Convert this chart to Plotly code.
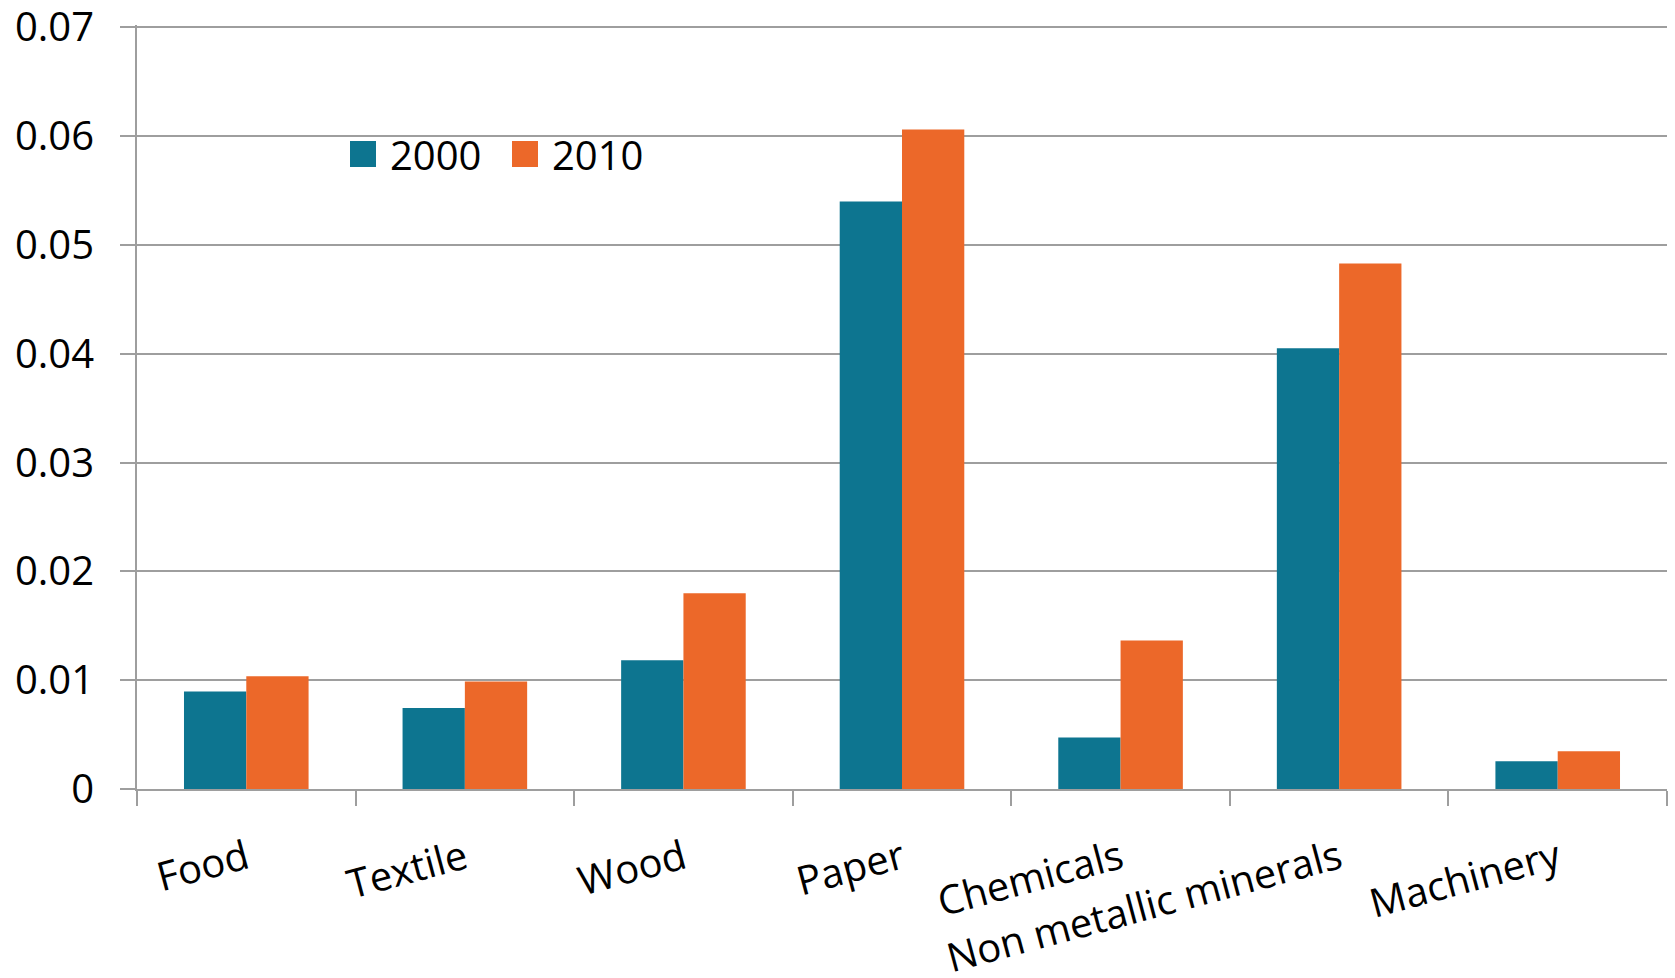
import plotly.graph_objects as go

categories = ["Food", "Textile", "Wood", "Paper", "Chemicals", "Non metallic minerals", "Machinery"]
values_2000 = [0.00896, 0.00744, 0.01183, 0.0540, 0.00474, 0.0405, 0.00254]
values_2010 = [0.01037, 0.00988, 0.0180, 0.0606, 0.01364, 0.0483, 0.00346]
series_names = ["2000", "2010"]
y_ticks = [0, 0.01, 0.02, 0.03, 0.04, 0.05, 0.06, 0.07]
y_tick_labels = ["0", "0.01", "0.02", "0.03", "0.04", "0.05", "0.06", "0.07"]

TEAL = "#0D7590"
ORANGE = "#EC6829"
GRID = "#9E9E9E"
FONT = "Open Sans"

W, H = 1675, 978
ML, MR, MT, MB = 137, 8, 25, 189

fig = go.Figure()
fig.add_trace(go.Bar(x=categories, y=values_2000, name=series_names[0],
                     marker=dict(color=TEAL, line=dict(width=0))))
fig.add_trace(go.Bar(x=categories, y=values_2010, name=series_names[1],
                     marker=dict(color=ORANGE, line=dict(width=0))))

fig.update_layout(
    width=W, height=H,
    margin=dict(l=ML, r=MR, t=MT, b=MB, pad=0),
    paper_bgcolor="white", plot_bgcolor="white",
    barmode="group", bargap=0.43, bargroupgap=0,
    showlegend=False,
    font=dict(family=FONT, size=40, color="black"),
)
fig.update_yaxes(
    range=[0, y_ticks[-1] * 1.003], tickvals=y_ticks, ticktext=y_tick_labels,
    showgrid=True, gridcolor=GRID, gridwidth=2,
    showline=True, linecolor=GRID, linewidth=2,
    ticks="outside", ticklen=15, tickcolor=GRID, tickwidth=2,
    zeroline=False, ticklabelstandoff=18, ticklabeloverflow="allow",
    automargin=False,
    tickfont=dict(family=FONT, size=40, color="black"),
)
fig.update_xaxes(
    showline=True, linecolor=GRID, linewidth=2,
    ticks="outside", ticklen=15, tickcolor=GRID, tickwidth=2,
    tickson="boundaries", tickangle=-15, showgrid=False,
    ticklabelstandoff=29, ticklabeloverflow="allow", automargin=False,
    tickfont=dict(family=FONT, size=40, color="black"),
)

# manual legend with large square swatches
pw = W - ML - MR
ph = H - MT - MB
def px_x(v):
    return (v - ML) / pw
def px_y(v):
    return (H - MB - v) / ph

swatches = [(350, TEAL, series_names[0]), (512, ORANGE, series_names[1])]
for x0, col, name in swatches:
    fig.add_shape(type="rect", xref="paper", yref="paper",
                  x0=px_x(x0), x1=px_x(x0 + 26), y0=px_y(167), y1=px_y(141),
                  fillcolor=col, line=dict(width=0))
    fig.add_annotation(xref="paper", yref="paper", x=px_x(x0 + 38), y=px_y(154),
                       text=name, showarrow=False, xanchor="left", yanchor="middle",
                       font=dict(family=FONT, size=40, color="black"))

fig.write_html("out.html")
